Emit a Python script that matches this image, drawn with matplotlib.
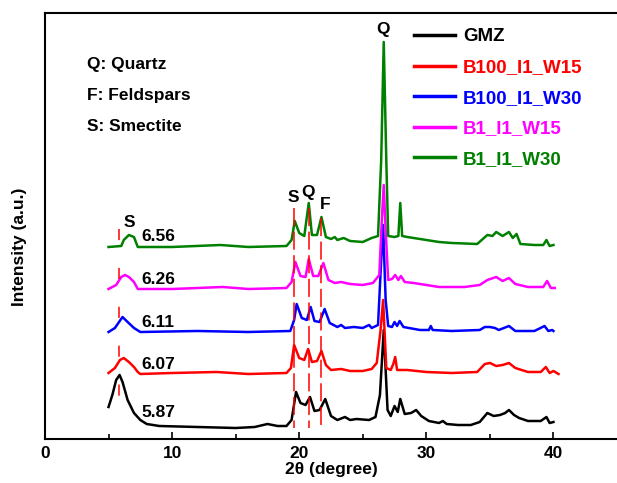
import numpy as np
import matplotlib
matplotlib.use('Agg')
import matplotlib.pyplot as plt

plt.rcParams['font.family'] = ['Liberation Sans', 'DejaVu Sans']
plt.rcParams['font.weight'] = 'bold'
plt.rcParams['lines.scale_dashes'] = False

# XRD patterns, stacked (intensity already includes the vertical offset)
gmz_x = [5.0, 5.3, 5.6, 5.87, 6.1, 6.5, 7.0, 7.5, 8.0, 9.0, 12.0, 15.0, 16.5, 17.5, 18.3, 19.0,
         19.4, 19.75, 20.1, 20.5, 20.85, 21.2, 21.6, 22.05, 22.5, 23.0, 23.6, 24.0, 24.5, 25.5,
         26.0, 26.35, 26.65, 26.95, 27.2, 27.5, 27.75, 27.95, 28.3, 28.8, 29.2, 29.6, 30.2,
         31.0, 31.3, 31.6, 32.5, 33.5, 34.2, 34.8, 35.3, 35.8, 36.2, 36.5, 36.9, 37.3, 38.0,
         39.0, 39.45, 39.7, 40.0]
gmz_y = [32, 44, 59, 64, 57, 39, 26, 19, 15, 13, 12, 11, 12, 15, 13, 13,
         19, 47, 36, 34, 42, 28, 29, 40, 23, 19, 22, 19, 20, 19,
         22, 44, 109, 29, 23, 33, 27, 40, 25, 26, 29, 23, 18,
         16, 18, 15, 14, 14, 17, 26, 23, 24, 26, 29, 24, 21, 18,
         18, 22, 16, 17]

b100_w15_x = [5.0, 5.5, 5.9, 6.2, 6.6, 7.0, 7.3, 7.5, 10.0, 13.5, 16.0, 19.0, 19.35, 19.6, 20.0,
              20.4, 20.7, 21.0, 21.4, 21.75, 22.1, 22.5, 23.3, 24.0, 25.0, 25.7, 26.1, 26.4,
              26.6, 26.85, 27.2, 27.4, 27.55, 27.7, 28.5, 30.0, 32.0, 34.0, 34.6, 35.0, 35.5,
              36.0, 36.5, 37.0, 38.0, 39.0, 39.4, 39.7, 40.0, 40.4]
b100_w15_y = [66, 71, 79, 81, 77, 72, 67, 65, 66, 67, 65, 66, 71, 94, 81,
              79, 90, 77, 78, 88, 74, 69, 70, 68, 68, 70, 76, 109,
              139, 71, 69, 75, 82, 69, 69, 67, 66, 67, 75, 76, 73,
              74, 76, 71, 67, 67, 72, 66, 68, 65]

b100_w30_x = [5.0, 5.5, 6.1, 6.5, 7.0, 7.5, 12.0, 16.0, 19.3, 19.6, 19.8, 20.2, 20.6, 20.9,
              21.2, 21.6, 22.0, 22.4, 23.0, 23.3, 23.6, 24.3, 25.0, 25.5, 25.7, 26.2, 26.45,
              26.6, 26.8, 27.0, 27.3, 27.5, 27.7, 27.9, 28.2, 29.5, 30.2, 30.35, 30.5, 32.0,
              34.2, 34.6, 35.0, 35.4, 35.7, 36.5, 37.0, 38.5, 39.3, 39.6, 39.9, 40.0]
b100_w30_y = [107, 111, 122, 117, 111, 107, 108, 107, 108, 119, 135, 121, 119, 132,
              118, 117, 130, 116, 112, 114, 111, 112, 111, 114, 111, 114, 179,
              214, 139, 113, 112, 117, 113, 118, 112, 109, 109, 113, 109, 108,
              109, 112, 112, 111, 109, 113, 108, 108, 113, 108, 109, 108]

b1_w15_x = [5.0, 5.6, 6.0, 6.3, 6.6, 7.0, 7.3, 10.0, 14.0, 16.0, 19.0, 19.4, 19.7, 20.1, 20.5,
            20.75, 21.1, 21.5, 21.9, 22.3, 22.8, 23.3, 24.0, 25.0, 25.8, 26.3, 26.5, 26.65,
            26.8, 27.0, 27.3, 27.55, 27.8, 28.0, 28.3, 29.0, 30.0, 31.0, 33.0, 34.2, 34.8,
            35.5, 36.0, 36.5, 37.0, 38.0, 39.2, 39.5, 39.8, 40.1]
b1_w15_y = [150, 154, 162, 164, 162, 157, 150, 150, 152, 150, 151, 157, 177, 163, 162,
            180, 163, 163, 176, 159, 156, 157, 155, 154, 156, 164, 219, 254,
            209, 159, 160, 164, 159, 163, 157, 156, 154, 152, 152, 154, 159,
            162, 158, 161, 155, 152, 152, 158, 151, 151]

b1_w30_x = [5.0, 6.0, 6.2, 6.6, 7.0, 7.3, 10.0, 13.8, 16.0, 19.0, 19.4, 19.65, 20.0, 20.4,
            20.75, 21.0, 21.4, 21.75, 22.1, 22.5, 22.8, 23.0, 23.5, 24.0, 25.0, 25.7, 26.2,
            26.45, 26.65, 26.85, 27.0, 27.5, 27.8, 27.95, 28.1, 28.5, 30.0, 31.0, 32.0, 34.0,
            34.8, 35.2, 35.5, 36.0, 36.5, 36.8, 37.1, 37.4, 38.5, 39.2, 39.45, 39.7, 40.0]
b1_w30_y = [192, 193, 199, 204, 202, 192, 192, 194, 192, 193, 199, 218, 206, 203,
            236, 204, 204, 222, 202, 200, 202, 199, 201, 198, 197, 201, 203,
            279, 397, 279, 203, 202, 203, 236, 203, 202, 199, 197, 196, 195,
            204, 203, 207, 203, 207, 201, 205, 195, 194, 194, 199, 193, 194]

sample_names = ['GMZ', 'B100_I1_W15', 'B100_I1_W30', 'B1_I1_W15', 'B1_I1_W30']
sample_colors = ['black', 'red', 'blue', 'magenta', 'green']
patterns = [(gmz_x, gmz_y), (b100_w15_x, b100_w15_y), (b100_w30_x, b100_w30_y),
            (b1_w15_x, b1_w15_y), (b1_w30_x, b1_w30_y)]

# basal spacing of smectite for each sample
d001 = ['5.87', '6.07', '6.11', '6.26', '6.56']
d001_y = [26, 74, 116, 159, 202]

fig = plt.figure(figsize=(6.17, 4.83), dpi=100)
ax = fig.add_axes([0.0729, 0.0911, 0.9271, 0.882])

for (x, y), name, c in zip(patterns, sample_names, sample_colors):
    ax.plot(x, y, color=c, lw=1.8, label=name)

# reference lines for the smectite / quartz / feldspar reflections
ax.plot([5.85, 5.85], [210, 42], color='red', lw=1.1, dashes=(8, 20), zorder=5)
ax.plot([19.6, 19.6], [231, 11], color='red', lw=1.1, dashes=(13, 4), zorder=5)
ax.plot([20.75, 20.75], [231, 11], color='red', lw=1.1, dashes=(13, 4), zorder=5)
ax.plot([21.75, 21.75], [221, 11], color='red', lw=1.1, dashes=(13, 4), zorder=5)

for lab, yy in zip(d001, d001_y):
    ax.text(7.6, yy, lab, fontsize=12.5, fontweight='bold', va='center', ha='left')

ax.text(6.6, 216, 'S', fontsize=12.5, fontweight='bold', ha='center', va='center')
ax.text(19.5, 241, 'S', fontsize=12.5, fontweight='bold', ha='center', va='center')
ax.text(20.7, 246, 'Q', fontsize=12.5, fontweight='bold', ha='center', va='center')
ax.text(22.05, 234, 'F', fontsize=12.5, fontweight='bold', ha='center', va='center')
ax.text(26.6, 409, 'Q', fontsize=12.5, fontweight='bold', ha='center', va='center')

ax.text(3.3, 374, 'Q: Quartz', fontsize=12.5, fontweight='bold', va='center')
ax.text(3.3, 343, 'F: Feldspars', fontsize=12.5, fontweight='bold', va='center')
ax.text(3.3, 312, 'S: Smectite', fontsize=12.5, fontweight='bold', va='center')

leg = ax.legend(loc='upper left', bbox_to_anchor=(0.645, 0.964), frameon=False,
                fontsize=13.5, handlelength=2.2, handletextpad=0.42, labelspacing=0.72,
                borderpad=0, borderaxespad=0, labelcolor='linecolor')
for h in leg.legend_handles:
    h.set_linewidth(2.5)

ax.set_xlim(0, 45)
ax.set_ylim(0, 426)
ax.set_xticks([0, 10, 20, 30, 40])
ax.set_xticks([5, 15, 25, 35], minor=True)
ax.set_yticks([])
ax.tick_params(axis='x', which='major', direction='in', length=5, width=1.2, labelsize=12.5, pad=5)
ax.tick_params(axis='x', which='minor', direction='in', length=3.5, width=1.2)
for lbl in ax.get_xticklabels():
    lbl.set_fontweight('bold')
ax.spines['right'].set_visible(False)
for s in ['left', 'bottom', 'top']:
    ax.spines[s].set_linewidth(1.5)

ax.set_xlabel('2θ (degree)', fontsize=12.5, fontweight='bold', labelpad=1)
ax.set_ylabel('Intensity (a.u.)', fontsize=12.5, fontweight='bold')
ax.yaxis.set_label_coords(-0.032, 0.45)

fig.savefig('out.png', dpi=100)
